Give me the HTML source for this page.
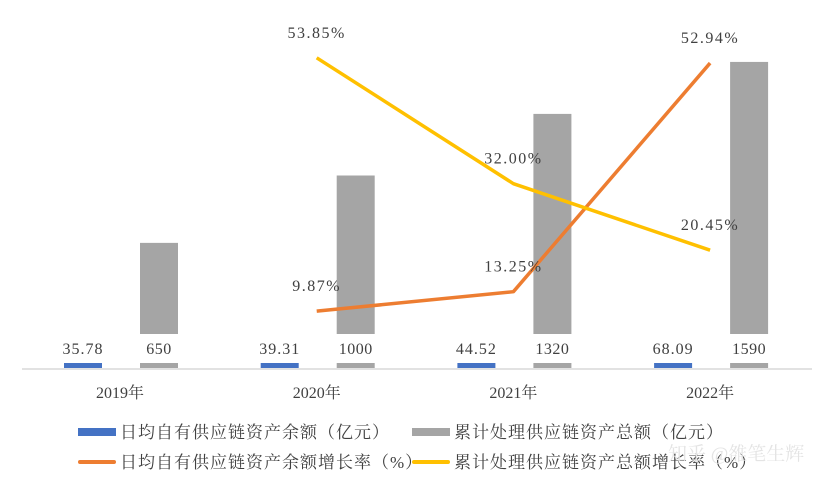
<!DOCTYPE html>
<html><head><meta charset="utf-8"><style>
body{margin:0;background:#fff;}
svg text{font-family:"Liberation Serif","Noto Serif CJK SC",serif;fill:#404040;}
</style></head><body>
<svg width="830" height="484" viewBox="0 0 830 484" xmlns="http://www.w3.org/2000/svg">
<g id="g"></g>
<text x="668" y="460" font-size="19" style="fill:#e4e4e4">知乎 @雒笔生辉</text>
</svg>
<script>
const categories=["2019年","2020年","2021年","2022年"];
const dailyBalance=[35.78,39.31,44.52,68.09];
const totalProcessed=[650,1000,1320,1590];
const balanceGrowth=[null,9.87,13.25,52.94];
const totalGrowth=[null,53.85,32.00,20.45];
const NS="http://www.w3.org/2000/svg";
const g=document.getElementById('g');
const baseY=368;
const xCat=i=>120+i*196.7;
const yAmt=v=>baseY-v*0.1925;
const yPct=v=>baseY-v*5.76;
function mk(tag,attrs,parent){const e=document.createElementNS(NS,tag);for(const k in attrs)e.setAttribute(k,attrs[k]);(parent||g).appendChild(e);return e;}
categories.forEach((c,i)=>{
  const x=xCat(i);
  let b=mk('rect',{x:x-56,y:yAmt(dailyBalance[i]),width:38,height:baseY-yAmt(dailyBalance[i]),fill:'#4472c4'});
  
  
  let b2=mk('rect',{x:x+20,y:yAmt(totalProcessed[i]),width:38,height:baseY-yAmt(totalProcessed[i]),fill:'#a5a5a5'});
  
  
  let bg=mk('rect',{x:x+14,y:334,width:50,height:29,fill:'#fff'});
  
  
  let bg2=mk('rect',{x:x-66,y:300,width:58,height:63,fill:'#fff'});
  
  
  let t1=mk('text',{x:x-37,y:354,'font-size':16,'text-anchor':'middle','letter-spacing':1});t1.textContent=dailyBalance[i].toFixed(2);
  
  
  let t2=mk('text',{x:x+39,y:354,'font-size':16,'text-anchor':'middle','letter-spacing':0.5});t2.textContent=String(totalProcessed[i]);
  
  
  let tc=mk('text',{x:x,y:398,'font-size':16,'text-anchor':'middle'});tc.textContent=c;
  
  
});
let ax=mk('line',{x1:22,y1:369,x2:812,y2:369,stroke:'#d9d9d9','stroke-width':1.5});


function line(arr,color,name){
  const pts=[];arr.forEach((v,i)=>{if(v!==null)pts.push([xCat(i),yPct(v),v]);});
  let p=mk('polyline',{points:pts.map(p=>p[0]+','+p[1]).join(' '),fill:'none',stroke:color,'stroke-width':3.5,'stroke-linejoin':'round'});
  
  
  pts.forEach(q=>{
    let t=mk('text',{x:q[0],y:q[1]-20,'font-size':16,'text-anchor':'middle','letter-spacing':1.5});t.textContent=q[2].toFixed(2)+'%';
    
    
  });
}
line(balanceGrowth,'#ed7d31','line-balance-growth');
line(totalGrowth,'#ffc000','line-total-growth');
const legend=[["日均自有供应链资产余额（亿元）",'#4472c4',78,432,'bar'],["累计处理供应链资产总额（亿元）",'#a5a5a5',412,432,'bar'],["日均自有供应链资产余额增长率（%）",'#ed7d31',78,462,'line'],["累计处理供应链资产总额增长率（%）",'#ffc000',412,462,'line']];
legend.forEach(l=>{
  let s=l[4]==='bar'?mk('rect',{x:l[2],y:l[3]-4,width:38,height:8,fill:l[1]}):mk('line',{x1:l[2]+2,y1:l[3],x2:l[2]+36,y2:l[3],stroke:l[1],'stroke-width':4,'stroke-linecap':'round'});
  
  
  let t=mk('text',{x:l[2]+42,y:l[3]+6,'font-size':17,'letter-spacing':1});t.textContent=l[0];
  
  
});
</script>
</body></html>
